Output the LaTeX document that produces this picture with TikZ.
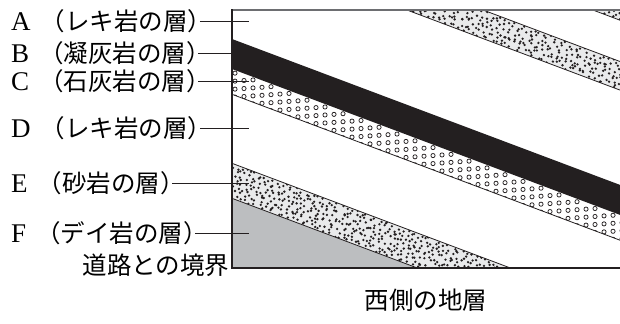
\documentclass[tikz,border=0pt]{standalone}
\usepackage{fontspec}
\setmainfont{Liberation Serif}
\newfontfamily\jp{Noto Sans CJK JP}
\definecolor{inkblack}{HTML}{231F20}
\definecolor{sandgray}{HTML}{E9EAEB}
\definecolor{rockgray}{HTML}{BCBEC0}
\definecolor{rimgray}{HTML}{6D6E71}
\begin{document}
\begin{tikzpicture}[x=1bp,y=-1bp,
  lbl/.style={anchor=west,inner xsep=1bp,inner ysep=0pt,
    font=\fontsize{24.5bp}{26bp}\selectfont\jp},
  caption/.style={inner sep=0pt,font=\fontsize{24.5bp}{26bp}\selectfont\jp},
  leader/.style={line width=1bp,inkblack},
  bedline/.style={line width=0.8bp,inkblack},
  grain/.style={fill=inkblack},
  pebble/.style={draw=inkblack,line width=0.75bp}]
\newcommand\letter[1]{{\fontsize{27bp}{27bp}\selectfont\rmfamily #1}\hspace{10bp}}
% sand grains: one jittered grain per cell of a band
% #1 left x, #2 number of columns, #3 top edge at x=232, #4 rows, #5 row height
\newcommand\grains[5]{%
  \foreach \i in {0,...,#2}{
    \foreach \j in {0,...,#4}{
      \pgfmathsetmacro\xx{#1+(\i+rnd)*4.6}
      \pgfmathsetmacro\yy{#3+0.376*(\xx-232)+(\j+rnd)*#5}
      \fill[grain] (\xx,\yy) circle (1.3);
    }
  }}
\useasboundingbox (0,0) rectangle (620,323);

% strata, all dipping with slope 0.376 (drop of 145.9 across the section)
\begin{scope}
  \clip (232,10) rectangle (620,268);
  % F: igneous rock at the bottom left
  \fill[rockgray] (232,198.3) -- (620,344.2) -- (620,420) -- (232,420) -- cycle;
  % E: sandstone
  \fill[sandgray] (232,163.3) -- (620,309.2) -- (620,344.2) -- (232,198.3) -- cycle;
  \begin{scope}
    \clip (232,163.3) -- (620,309.2) -- (620,344.2) -- (232,198.3) -- cycle;
    \pgfmathsetseed{11}
    \grains{230}{61}{163.3}{7}{4.375}
  \end{scope}
  % C: limestone with small pebble circles
  \begin{scope}
    \clip (232,69) -- (620,214.9) -- (620,240.2) -- (232,94.3) -- cycle;
    \foreach \i in {0,...,44}{
      \foreach \j in {0,...,3}{
        \pgfmathsetmacro\xx{235+\i*9}
        \pgfmathsetmacro\yy{69+0.376*(\xx-232)+3+\j*8+mod(\i,2)*4}
        \draw[pebble] (\xx,\yy) circle (2.1);
      }
    }
  \end{scope}
  % B: tuff
  \fill[inkblack] (232,39) -- (620,184.9) -- (620,214.9) -- (232,69) -- cycle;
  % upper sandstone beds
  \fill[sandgray] (232,-84.4) -- (620,61.5) -- (620,90.1) -- (232,-55.8) -- cycle;
  \fill[sandgray] (232,-155) -- (620,-9.1) -- (620,20.2) -- (232,-125.7) -- cycle;
  \begin{scope}
    \clip (232,-84.4) -- (620,61.5) -- (620,90.1) -- (232,-55.8) -- cycle;
    \pgfmathsetseed{23}
    \grains{398}{49}{-84.4}{5}{4.77}
  \end{scope}
  \begin{scope}
    \clip (232,-155) -- (620,-9.1) -- (620,20.2) -- (232,-125.7) -- cycle;
    \pgfmathsetseed{5}
    \grains{560}{14}{-155}{5}{4.88}
  \end{scope}
  % bedding planes
  \draw[bedline] (232,-125.7) -- (620,20.2);
  \draw[bedline] (232,-84.4) -- (620,61.5);
  \draw[bedline] (232,-55.8) -- (620,90.1);
  \draw[bedline] (232,94.3) -- (620,240.2);
  \draw[bedline] (232,163.3) -- (620,309.2);
  \draw[bedline] (232,198.3) -- (620,344.2);
\end{scope}

% outline of the section
\draw[line width=1.2bp,rimgray] (232,10) -- (620,10);
\draw[line width=1.3bp,inkblack] (232,9.4) -- (232,268);
\draw[line width=2bp,inkblack] (231.35,268) -- (620,268);

% layer labels with leaders
\node[lbl] (la) at (10,21) {\letter{A}（レキ岩の層\makebox[0.45em][l]{）}};
\node[lbl] (lb) at (10,53) {\letter{B}（凝灰岩の層\makebox[0.45em][l]{）}};
\node[lbl] (lc) at (10,81) {\letter{C}（石灰岩の層\makebox[0.45em][l]{）}};
\node[lbl] (ld) at (10,128) {\letter{D}（レキ岩の層\makebox[0.45em][l]{）}};
\node[lbl] (le) at (10,183) {\letter{E}（砂岩の層\makebox[0.45em][l]{）}};
\node[lbl] (lf) at (10,233) {\letter{F}（デイ岩の層\makebox[0.45em][l]{）}};
\coordinate (ea) at (249,21);
\coordinate (eb) at (249,53);
\coordinate (ec) at (249,81);
\coordinate (ed) at (249,128);
\coordinate (ee) at (249,183);
\coordinate (ef) at (249,233);
\draw[leader] (la.east) -- (ea);
\draw[leader] (lb.east) -- (eb);
\draw[leader] (lc.east) -- (ec);
\draw[leader] (ld.east) -- (ed);
\draw[leader] (le.east) -- (ee);
\draw[leader] (lf.east) -- (ef);

\node[caption,anchor=east] (road) at (229.5,265) {道路との境界};
\node[caption] (title) at (426,300) {西側の地層};
\end{tikzpicture}
\end{document}
